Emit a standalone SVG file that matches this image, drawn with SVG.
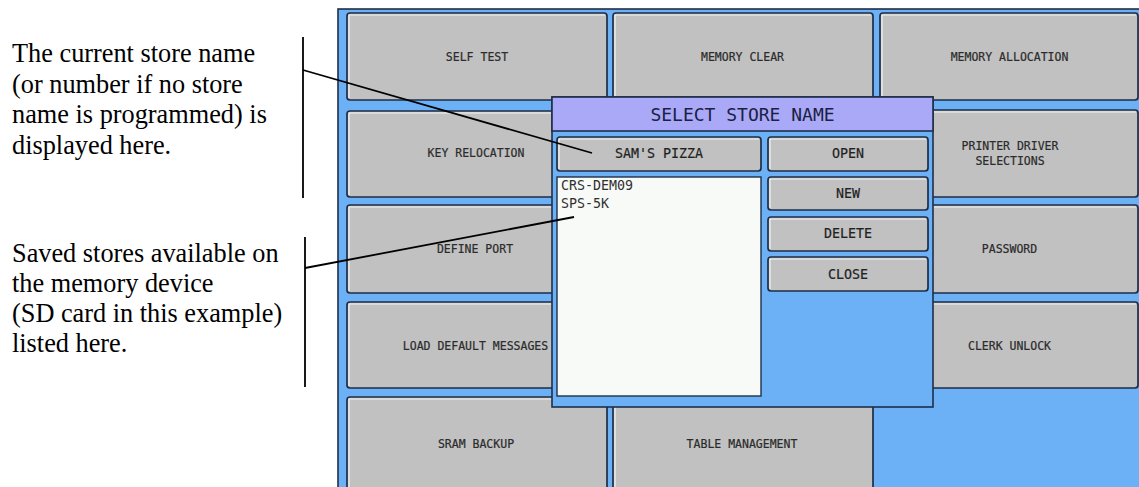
<svg xmlns="http://www.w3.org/2000/svg" width="1139" height="487" viewBox="0 0 1139 487">
  <style>
    .btn { fill: #c1c1c1; stroke: #1e2e46; stroke-width: 1.7; }
    .hl { fill: none; stroke: #f4f4f4; stroke-width: 1.2; }
    .lbl { font-family: "DejaVu Sans Mono", "Liberation Mono", monospace; font-size: 11.5px; fill: #2b2b2b; stroke: #2b2b2b; stroke-width: 0.2; text-anchor: middle; dominant-baseline: central; }
    .dlbl { font-family: "DejaVu Sans Mono", "Liberation Mono", monospace; font-size: 13.3px; fill: #222222; stroke: #222222; stroke-width: 0.2; text-anchor: middle; dominant-baseline: central; }
    .note { font-family: "Liberation Serif", "Times New Roman", serif; font-size: 26.3px; fill: #000000; }
    .conn { stroke: #000000; stroke-width: 1.8; fill: none; }
  </style>
  <rect x="0" y="0" width="1139" height="487" fill="#ffffff"/>

  <g id="screen">
    <rect x="338" y="9" width="820" height="500" fill="#6cb1f6" stroke="#1f2f48" stroke-width="1.6"/>
  </g>

  <g id="btn-self-test">
    <rect class="btn" x="347" y="13" width="260" height="87" rx="3"/>
    <polyline class="hl" points="349,98 349,15 605,15"/>
    <text class="lbl" x="477" y="57">SELF TEST</text>
  </g>
  <g id="btn-memory-clear">
    <rect class="btn" x="613" y="13" width="260" height="87" rx="3"/>
    <polyline class="hl" points="615,98 615,15 871,15"/>
    <text class="lbl" x="742.5" y="57">MEMORY CLEAR</text>
  </g>
  <g id="btn-memory-allocation">
    <rect class="btn" x="880" y="13" width="258" height="87" rx="3"/>
    <polyline class="hl" points="882,98 882,15 1136,15"/>
    <text class="lbl" x="1009.5" y="57">MEMORY ALLOCATION</text>
  </g>
  <g id="btn-key-relocation">
    <rect class="btn" x="347" y="111" width="260" height="86" rx="3"/>
    <polyline class="hl" points="349,195 349,113 605,113"/>
    <text class="lbl" x="476" y="153">KEY RELOCATION</text>
  </g>
  <g id="btn-printer-driver">
    <rect class="btn" x="880" y="110" width="258" height="87" rx="3"/>
    <polyline class="hl" points="882,195 882,112 1136,112"/>
    <text class="lbl" x="1010" y="146">PRINTER DRIVER</text>
    <text class="lbl" x="1010" y="161">SELECTIONS</text>
  </g>
  <g id="btn-define-port">
    <rect class="btn" x="347" y="205" width="260" height="88" rx="3"/>
    <polyline class="hl" points="349,291 349,207 605,207"/>
    <text class="lbl" x="475" y="249">DEFINE PORT</text>
  </g>
  <g id="btn-password">
    <rect class="btn" x="880" y="205" width="258" height="88" rx="3"/>
    <polyline class="hl" points="882,291 882,207 1136,207"/>
    <text class="lbl" x="1009.5" y="249">PASSWORD</text>
  </g>
  <g id="btn-load-default-messages">
    <rect class="btn" x="347" y="302" width="260" height="86" rx="3"/>
    <polyline class="hl" points="349,386 349,304 605,304"/>
    <text class="lbl" x="475.5" y="346">LOAD DEFAULT MESSAGES</text>
  </g>
  <g id="btn-clerk-unlock">
    <rect class="btn" x="880" y="302" width="258" height="86" rx="3"/>
    <polyline class="hl" points="882,386 882,304 1136,304"/>
    <text class="lbl" x="1009.5" y="346">CLERK UNLOCK</text>
  </g>
  <g id="btn-sram-backup">
    <rect class="btn" x="347" y="397" width="260" height="95" rx="3"/>
    <polyline class="hl" points="349,490 349,399 605,399"/>
    <text class="lbl" x="476" y="444">SRAM BACKUP</text>
  </g>
  <g id="btn-table-management">
    <rect class="btn" x="613" y="397" width="260" height="95" rx="3"/>
    <polyline class="hl" points="615,490 615,399 871,399"/>
    <text class="lbl" x="742" y="444">TABLE MANAGEMENT</text>
  </g>

  <g id="dialog">
    <rect x="552" y="97" width="381" height="310" fill="#6cb1f6" stroke="#1f2f48" stroke-width="1.6"/>
    <rect x="552" y="97" width="381" height="34" fill="#a9a9f8" stroke="#1f2f48" stroke-width="1.6"/>
    <text x="742.5" y="114" font-family="DejaVu Sans Mono, Liberation Mono, monospace" font-size="18px" fill="#1b2142" text-anchor="middle" dominant-baseline="central">SELECT STORE NAME</text>
  </g>
  <g id="dlg-store-name">
    <rect class="btn" x="557" y="137" width="204" height="34" rx="3"/>
    <polyline class="hl" points="559,169 559,139 759,139"/>
    <text class="dlbl" x="659" y="153">SAM'S PIZZA</text>
  </g>
  <g id="dlg-open">
    <rect class="btn" x="768" y="137" width="160" height="34" rx="3"/>
    <polyline class="hl" points="770,169 770,139 926,139"/>
    <text class="dlbl" x="848" y="153">OPEN</text>
  </g>
  <g id="dlg-list">
    <rect x="557" y="177" width="204" height="219" fill="#f7faf6" stroke="#1f2f48" stroke-width="1.4"/>
    <text x="561" y="190" font-family="DejaVu Sans Mono, Liberation Mono, monospace" font-size="13.3px" fill="#303030">CRS-DEM09</text>
    <text x="561" y="208" font-family="DejaVu Sans Mono, Liberation Mono, monospace" font-size="13.3px" fill="#303030">SPS-5K</text>
  </g>
  <g id="dlg-new">
    <rect class="btn" x="768" y="177" width="160" height="33" rx="3"/>
    <polyline class="hl" points="770,208 770,179 926,179"/>
    <text class="dlbl" x="848" y="193">NEW</text>
  </g>
  <g id="dlg-delete">
    <rect class="btn" x="768" y="217" width="160" height="34" rx="3"/>
    <polyline class="hl" points="770,249 770,219 926,219"/>
    <text class="dlbl" x="848" y="233">DELETE</text>
  </g>
  <g id="dlg-close">
    <rect class="btn" x="768" y="257" width="160" height="34" rx="3"/>
    <polyline class="hl" points="770,289 770,259 926,259"/>
    <text class="dlbl" x="848" y="274">CLOSE</text>
  </g>

  <g id="note-current">
    <text class="note" x="12" y="62">The current store name</text>
    <text class="note" x="12" y="92.5">(or number if no store</text>
    <text class="note" x="12" y="123">name is programmed) is</text>
    <text class="note" x="12" y="153.5">displayed here.</text>
  </g>
  <g id="note-saved">
    <text class="note" x="12" y="262">Saved stores available on</text>
    <text class="note" x="12" y="292">the memory device</text>
    <text class="note" x="12" y="322">(SD card in this example)</text>
    <text class="note" x="12" y="352">listed here.</text>
  </g>

  <g id="connectors">
    <line class="conn" x1="303" y1="37" x2="303" y2="198"/>
    <line class="conn" x1="303" y1="70" x2="592" y2="153"/>
    <line class="conn" x1="305" y1="237" x2="305" y2="387"/>
    <line class="conn" x1="305" y1="268" x2="574" y2="217"/>
  </g>
</svg>
